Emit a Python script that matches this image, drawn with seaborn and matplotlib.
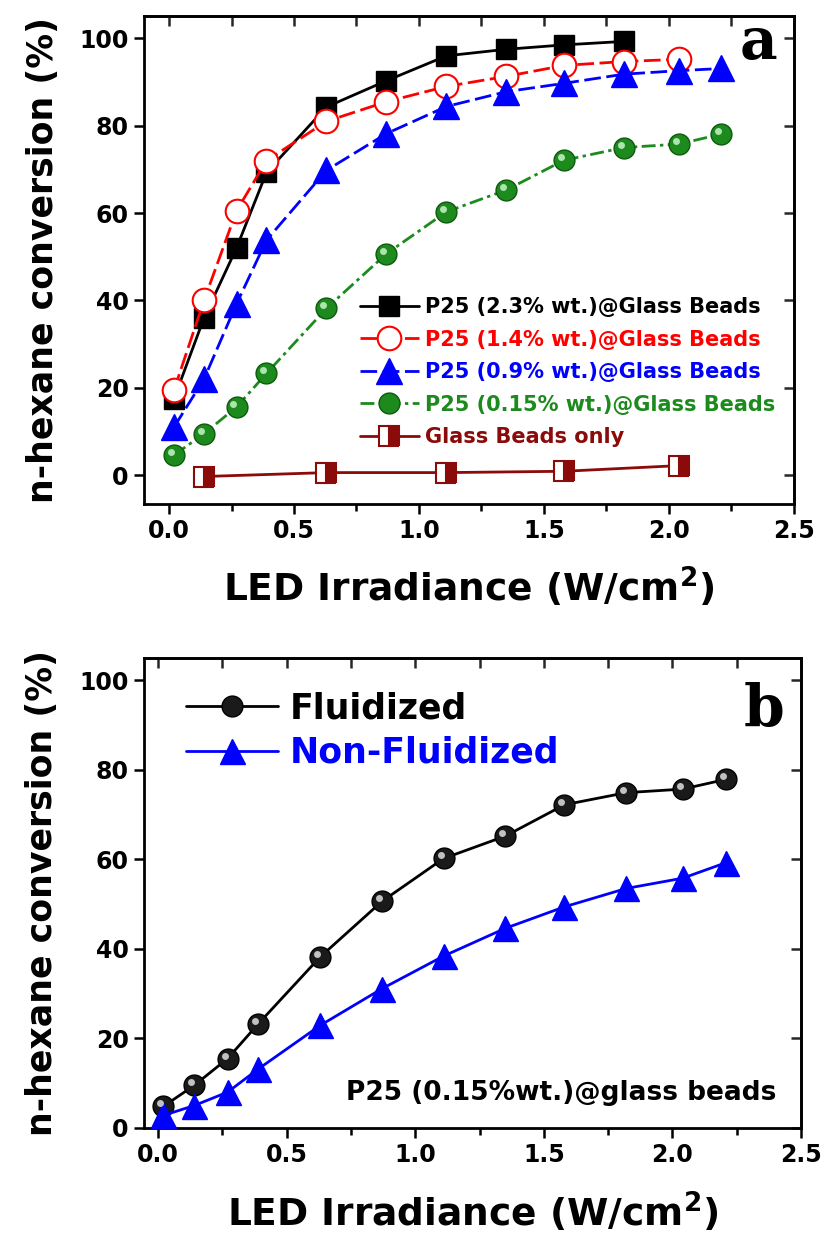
import matplotlib
matplotlib.use("Agg")
import matplotlib.pyplot as plt
import matplotlib.transforms as mtransforms
from matplotlib.ticker import MultipleLocator
import seaborn as sns
import pandas as pd

sns.set_style("ticks")
plt.rcParams["font.family"] = ["DejaVu Sans"]
plt.rcParams["font.weight"] = "bold"
plt.rcParams["mathtext.fontset"] = "dejavusans"
plt.rcParams["mathtext.default"] = "bf"
plt.rcParams["text.color"] = "black"
plt.rcParams["axes.labelcolor"] = "black"

# ---------------- data ----------------
irr = [0.02, 0.14, 0.27, 0.39, 0.63, 0.87, 1.11, 1.35, 1.58, 1.82, 2.04, 2.21]

p25_23 = [17.5, 36, 52, 69.3, 84.3, 90.3, 96, 97.5, 98.5, 99.3]
p25_14 = [19.5, 40, 60.5, 72, 81, 85.5, 89, 91.3, 93.8, 94.7, 95.2]
p25_09 = [11, 22, 39.2, 53.8, 69.8, 78.2, 84.4, 87.8, 89.7, 91.8, 92.6, 93.1]
p25_015 = [4.6, 9.5, 15.6, 23.3, 38.2, 50.7, 60.3, 65.3, 72.1, 75.0, 75.8, 78.1]

beads_x = [0.14, 0.63, 1.11, 1.58, 2.04]
beads_y = [-0.3, 0.6, 0.6, 0.9, 2.2]

fluidized = [4.8, 9.5, 15.5, 23.3, 38.2, 50.6, 60.2, 65.2, 72.2, 74.9, 75.7, 77.9]
non_fluidized = [2.8, 5.0, 8.0, 13.2, 22.9, 31.1, 38.4, 44.6, 49.4, 53.5, 55.8, 59.3]

labels_a = ["P25 (2.3% wt.)@Glass Beads", "P25 (1.4% wt.)@Glass Beads",
            "P25 (0.9% wt.)@Glass Beads", "P25 (0.15% wt.)@Glass Beads",
            "Glass Beads only"]
labels_b = ["Fluidized", "Non-Fluidized"]
xticks = [0.0, 0.5, 1.0, 1.5, 2.0, 2.5]
yticks = [0, 20, 40, 60, 80, 100]
xlabel = r"LED Irradiance (W/cm$^{2}$)"
ylabel = "n-hexane conversion (%)"
note_b = "P25 (0.15%wt.)@glass beads"

# ---------------- figure ----------------
fig = plt.figure(figsize=(8.3, 12.36), dpi=100)
ax_a = fig.add_axes([0.1735, 0.5922, 0.7831, 0.3948])
ax_b = fig.add_axes([0.1735, 0.0874, 0.7916, 0.3803])

BLACK, RED, BLUE, GREEN, BROWN = "#000000", "#ff0000", "#0000ff", "#1c8a1c", "#8b0a0a"
LW = 2.0


def highlight(ax, xs, ys, color, size):
    tr = ax.transData + mtransforms.ScaledTranslation(-2.2 / 72, 2.2 / 72, fig.dpi_scale_trans)
    ax.plot(xs, ys, linestyle="none", marker="o", markersize=size, color=color,
            markeredgewidth=0, alpha=0.85, transform=tr, zorder=5)


# panel a
sns.lineplot(x=irr[:len(p25_23)], y=p25_23, ax=ax_a, color=BLACK, lw=LW, marker="s",
             markersize=14.5, markerfacecolor=BLACK, markeredgecolor=BLACK,
             markeredgewidth=1, label=labels_a[0], zorder=4)
sns.lineplot(x=irr[:len(p25_14)], y=p25_14, ax=ax_a, color=RED, lw=LW, marker="o",
             markersize=17, markerfacecolor="white", markeredgecolor=RED,
             markeredgewidth=1.5, linestyle=(0, (6, 2)), label=labels_a[1], zorder=4)
sns.lineplot(x=irr, y=p25_09, ax=ax_a, color=BLUE, lw=LW, marker="^",
             markersize=19, markerfacecolor=BLUE, markeredgecolor=BLUE,
             markeredgewidth=1, linestyle=(0, (6, 2)), label=labels_a[2], zorder=4)
sns.lineplot(x=irr, y=p25_015, ax=ax_a, color=GREEN, lw=LW, marker="o",
             markersize=15, markerfacecolor=GREEN, markeredgecolor="#0c5a0c",
             markeredgewidth=1, linestyle=(0, (5, 1.6, 1.2, 1.6)), label=labels_a[3], zorder=4)
highlight(ax_a, irr, p25_015, "#c8f5c8", 5)
sns.lineplot(x=beads_x, y=beads_y, ax=ax_a, color=BROWN, lw=LW, marker="s",
             markersize=14, fillstyle="right", markerfacecolor=BROWN,
             markerfacecoloralt="white", markeredgecolor=BROWN,
             markeredgewidth=1.5, label=labels_a[4], zorder=4)

ax_a.legend(loc="upper left", bbox_to_anchor=(0.332, 0.424), frameon=False,
            fontsize=15, handlelength=2.85, handletextpad=0.3,
            labelspacing=0.6, borderpad=0, borderaxespad=0, numpoints=1,
            labelcolor=[BLACK, RED, BLUE, GREEN, BROWN])

ax_a.text(0.975, 0.913, "a", transform=ax_a.transAxes, ha="right", va="baseline",
          fontsize=42, fontweight="bold", family="DejaVu Serif")

# panel b
sns.lineplot(x=irr, y=fluidized, ax=ax_b, color=BLACK, lw=LW, marker="o",
             markersize=15, markerfacecolor="#1a1a1a", markeredgecolor=BLACK,
             markeredgewidth=1, label=labels_b[0], zorder=4)
highlight(ax_b, irr, fluidized, "#e0e0e0", 5)
sns.lineplot(x=irr, y=non_fluidized, ax=ax_b, color=BLUE, lw=LW, marker="^",
             markersize=18, markerfacecolor=BLUE, markeredgecolor=BLUE,
             markeredgewidth=1, label=labels_b[1], zorder=4)
ax_b.legend(loc="upper left", bbox_to_anchor=(0.064, 0.929), frameon=False,
            fontsize=25, handlelength=2.65, handletextpad=0.35,
            labelspacing=0.3, borderpad=0, borderaxespad=0, numpoints=1,
            labelcolor=[BLACK, BLUE])
ax_b.text(0.975, 0.855, "b", transform=ax_b.transAxes, ha="right", va="baseline",
          fontsize=42, fontweight="bold", family="DejaVu Serif")
ax_b.text(0.962, 0.074, note_b, transform=ax_b.transAxes, ha="right", va="center",
          fontsize=19, fontweight="bold", color="black")

# axes styling
for ax, xl, yl in [(ax_a, (-0.1, 2.5), (-6.6, 105.1)), (ax_b, (-0.055, 2.5), (0, 105))]:
    ax.set_xlim(*xl)
    ax.set_ylim(*yl)
    ax.set_xticks(xticks)
    ax.set_yticks(yticks)
    ax.set_xticklabels([f"{v:.1f}" for v in xticks])
    ax.set_yticklabels([str(v) for v in yticks])
    ax.xaxis.set_minor_locator(MultipleLocator(0.25))
    for s in ax.spines.values():
        s.set_linewidth(2.0)
        s.set_color("black")
    ax.tick_params(axis="both", which="both", direction="out", width=1.8,
                   colors="black", labelsize=17, top=False, right=False)
    ax.tick_params(which="major", length=7, pad=4)
    ax.tick_params(which="minor", length=5)
    for lab in ax.get_xticklabels() + ax.get_yticklabels():
        lab.set_fontweight("bold")
    secx = ax.secondary_xaxis("top")
    secx.set_xticks(xticks)
    secx.xaxis.set_minor_locator(MultipleLocator(0.25))
    secx.tick_params(which="both", direction="in", length=7, width=1.8, labeltop=False)
    secx.spines["top"].set_linewidth(2.0)
    secy = ax.secondary_yaxis("right")
    secy.set_yticks(yticks)
    secy.tick_params(which="both", direction="in", length=7, width=1.8, labelright=False)
    secy.spines["right"].set_linewidth(2.0)
    ax.set_xlabel(xlabel, fontsize=27, fontweight="bold", color="black")
    ax.set_ylabel(ylabel, fontsize=25, fontweight="bold", color="black")
    ax.grid(False)

ax_a.xaxis.set_label_coords(0.5, -0.126)
ax_a.yaxis.set_label_coords(-0.13, 0.5)
ax_b.xaxis.set_label_coords(0.5, -0.134)
ax_b.yaxis.set_label_coords(-0.13, 0.5)

fig.savefig("out.png", dpi=100)
